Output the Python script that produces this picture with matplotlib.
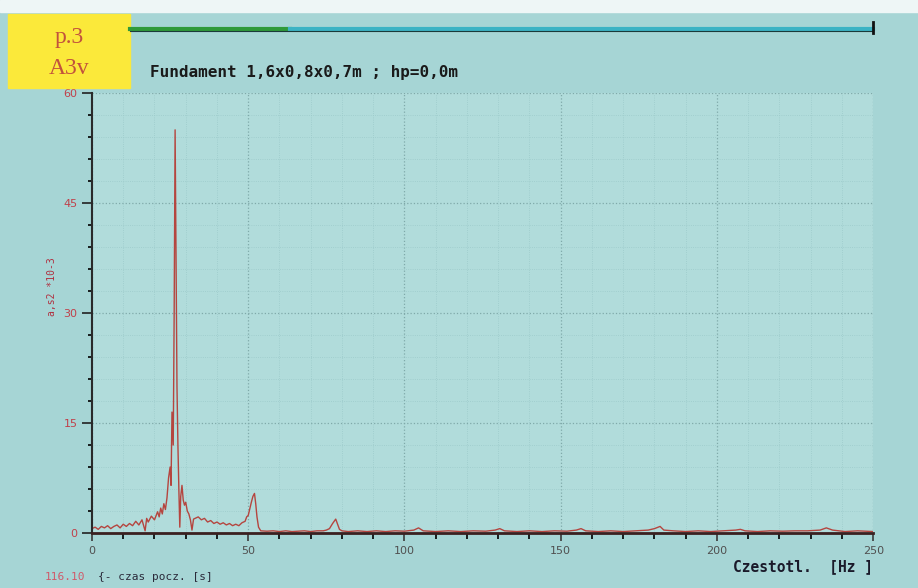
import matplotlib.pyplot as plt
from matplotlib.patches import Rectangle
from matplotlib.lines import Line2D

# spectrum (Hz, a *10^-3)
freq = [0, 1, 2, 3, 4, 5, 6, 7, 8, 9, 10, 11, 12, 13, 14, 15, 16, 17, 17.5, 18,
        19, 20, 21, 21.5, 22, 22.5, 23, 23.5, 24, 24.5, 25, 25.3, 25.6, 26.0, 26.3,
        26.6, 26.9, 27.2, 27.5, 27.8, 28.1, 28.4, 28.8, 29.2, 29.6, 30, 30.5, 31,
        31.5, 32, 32.5, 33, 34, 35, 36, 37, 38, 39, 40, 41, 42, 43, 44, 45, 46, 47,
        48, 49, 49.5, 50, 50.5, 51, 51.5, 52, 52.4, 52.8, 53.3, 54, 56, 58, 60, 62,
        64, 66, 68, 70, 72, 74, 75, 76, 77, 78, 78.6, 79.2, 80, 82, 85, 88, 91, 94,
        97, 100, 103, 104.5, 106, 110, 114, 118, 122, 126, 129, 130.5, 132, 136,
        140, 144, 148, 152, 155, 156.5, 158, 162, 166, 170, 174, 178, 180, 181.8,
        183, 186, 190, 194, 198, 202, 206, 207.5, 209, 213, 217, 221, 225, 229,
        233, 235, 237, 241, 245, 250]
amp = [0.6, 0.8, 0.5, 0.9, 0.7, 1.0, 0.6, 0.9, 1.1, 0.7, 1.2, 0.9, 1.3, 1.0, 1.6,
       1.1, 1.8, 0.3, 2.0, 1.5, 2.3, 1.8, 2.9, 2.2, 3.4, 2.6, 4.0, 3.2, 4.8, 7.5,
       9.0, 6.5, 16.5, 12.0, 30.0, 55.0, 38.0, 20.0, 12.0, 6.0, 0.8, 5.0, 6.5, 4.5,
       3.8, 4.2, 3.0, 2.6, 1.8, 0.4, 1.9, 2.0, 2.2, 1.8, 2.0, 1.5, 1.7, 1.3, 1.5,
       1.2, 1.4, 1.1, 1.3, 1.0, 1.2, 1.0, 1.4, 1.6, 2.2, 2.4, 3.3, 4.2, 5.0, 5.4,
       4.0, 2.2, 0.8, 0.3, 0.25, 0.3, 0.2, 0.3, 0.2, 0.25, 0.3, 0.2, 0.3, 0.3, 0.4,
       0.6, 1.3, 1.9, 1.2, 0.5, 0.3, 0.2, 0.3, 0.2, 0.3, 0.2, 0.3, 0.25, 0.4, 0.7,
       0.3, 0.2, 0.3, 0.2, 0.3, 0.25, 0.4, 0.6, 0.3, 0.2, 0.3, 0.2, 0.3, 0.25, 0.4,
       0.6, 0.3, 0.2, 0.3, 0.2, 0.3, 0.4, 0.6, 0.9, 0.4, 0.3, 0.2, 0.3, 0.2, 0.3,
       0.4, 0.5, 0.3, 0.2, 0.3, 0.25, 0.3, 0.3, 0.4, 0.7, 0.4, 0.2, 0.3, 0.2]

x_major = [0, 50, 100, 150, 200, 250]
y_major = [0, 15, 30, 45, 60]
y_labels = ['0', '15', '30', '45', '60']

bg = '#a6d5d5'
fig = plt.figure(figsize=(9.18, 5.88), dpi=100, facecolor=bg)
ax = fig.add_axes([0.1002, 0.0935, 0.851, 0.748], facecolor='#b1dcdb')

ax.plot(freq, amp, color='#b5453f', lw=1.0)
ax.set_xlim(0, 250)
ax.set_ylim(0, 60)

ax.set_xticks(x_major)
ax.set_xticks(range(0, 251, 10), minor=True)
ax.set_yticks(y_major)
ax.set_yticklabels(y_labels)
ax.set_yticks(range(0, 61, 3), minor=True)
ax.tick_params(axis='x', colors='#3a3a3a', labelsize=8, length=6, width=1.2, pad=3)
ax.tick_params(axis='x', which='minor', length=4, width=1.2)
ax.tick_params(axis='y', colors='#222222', labelcolor='#c0404a', labelsize=8, length=7, width=1.2)
ax.tick_params(axis='y', which='minor', length=3, width=1.2)
for lbl in ax.get_xticklabels():
    lbl.set_color('#505050')

for s in ['top', 'right']:
    ax.spines[s].set_visible(False)
ax.spines['left'].set_color('#2a2a2a')
ax.spines['bottom'].set_color('#3a2020')
ax.spines['left'].set_linewidth(1.5)
ax.spines['bottom'].set_linewidth(2)

ax.grid(True, which='major', color='#7fa9a9', ls=':', lw=0.9)
ax.grid(True, which='minor', color='#9ccaca', ls=':', lw=0.6)

ax.set_ylabel('a,s2 *10-3', color='#b03040', fontsize=7, family='DejaVu Sans Mono')
ax.yaxis.set_label_coords(-0.045, 0.56)

# white strip at the very top and the yellow label
fig.add_artist(Rectangle((0, 0.98), 1, 0.02, transform=fig.transFigure, color='#eef6f6'))
fig.add_artist(Rectangle((8 / 918, 1 - 88 / 588), 122 / 918, 74 / 588,
                         transform=fig.transFigure, color='#fbe93a'))
fig.text(69 / 918, 1 - 37 / 588, 'p.3', ha='center', va='center', fontsize=17,
         family='Liberation Serif', color='#c2523c')
fig.text(69 / 918, 1 - 68 / 588, 'A3v', ha='center', va='center', fontsize=17,
         family='Liberation Serif', color='#c2523c')

# bar along the top
y_bar = 1 - 29 / 588
fig.add_artist(Line2D([130 / 918, 290 / 918], [y_bar, y_bar], color='#2f9a3a', lw=3,
                      transform=fig.transFigure))
fig.add_artist(Line2D([290 / 918, 873 / 918], [y_bar, y_bar], color='#3bb3c4', lw=3,
                      transform=fig.transFigure))
fig.add_artist(Line2D([130 / 918, 873 / 918], [y_bar - 0.004, y_bar - 0.004], color='#1a3a3a',
                      lw=0.8, transform=fig.transFigure))
fig.add_artist(Line2D([873 / 918, 873 / 918], [y_bar - 0.006, y_bar + 0.012], color='#111111',
                      lw=2, transform=fig.transFigure))

fig.text(150 / 918, 1 - 73 / 588, 'Fundament 1,6x0,8x0,7m ; hp=0,0m', ha='left', va='center',
         fontsize=11.5, family='DejaVu Sans Mono', fontweight='bold', color='#1a1a1a')

fig.text(45 / 918, 1 - 577 / 588, '116.10', ha='left', va='center', fontsize=8,
         family='DejaVu Sans Mono', color='#d05a6a')
fig.text(98 / 918, 1 - 577 / 588, '{- czas pocz. [s]', ha='left', va='center', fontsize=8,
         family='DejaVu Sans Mono', color='#2a2a3a')
fig.text(873 / 918, 1 - 567 / 588, 'Czestotl.  [Hz ]', ha='right', va='center', fontsize=10.5,
         family='DejaVu Sans Mono', fontweight='bold', color='#1a1a2a')

plt.savefig('out.png', dpi=100, facecolor=bg)
